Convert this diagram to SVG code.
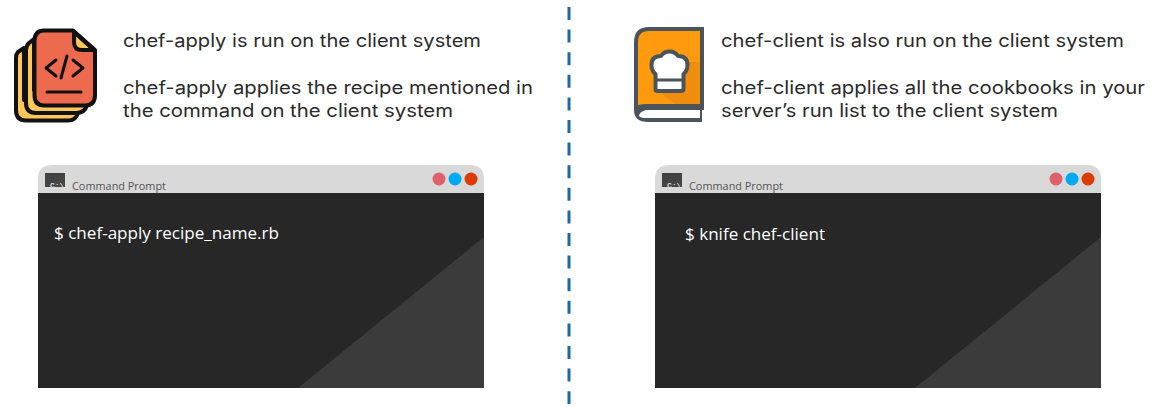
<svg xmlns="http://www.w3.org/2000/svg" width="1156" height="407" viewBox="0 0 1156 407">
<style>
.t{font-family:Inter,"Liberation Sans",sans-serif;font-size:18px;fill:#2b2b2b}
.cmd{font-family:"Open Sans","Liberation Sans",sans-serif;font-size:16.5px;fill:#fff}
.cp{font-family:"Open Sans","Liberation Sans",sans-serif;font-size:11px;fill:#555}
.cs{font-family:"Liberation Mono",monospace;font-size:8px;font-weight:bold;fill:#ddd}
.bar{fill:#d9d9d9}.body{fill:#272727}.tri{fill:#3b3b3b}
.ol{stroke:#111;stroke-width:4;stroke-linejoin:round;stroke-linecap:round}
</style>
<rect width="1156" height="407" fill="#fff"/>
<g id="connectors"><line x1="569" y1="7" x2="569" y2="404" stroke="#1b6aa5" stroke-width="3" stroke-dasharray="13 9.6"/></g>
<g id="icon-files">
<path class="ol" fill="#fdc75b" d="M24 48L18 52Q16 54 16 58V110Q16 120.500 26 120.500H68Q76 120.500 78 113L24 100Z"/>
<path class="ol" fill="#fdc75b" d="M34 39L29 43Q26 46 26 50V103Q26 113 36 113H76Q85 113 87 105L34 90Z"/>
<path class="ol" fill="#ee6a4e" d="M44 30.500H73L95 50V95Q95 105.500 85 105.500H44Q34.500 105.500 34.500 95V41Q34.500 30.500 44 30.500Z"/>
<path class="ol" fill="#fdc75b" d="M74 32V42Q74 50 82 50H94Z"/>
<g fill="none" stroke="#111" stroke-width="3" stroke-linecap="round" stroke-linejoin="round">
<path d="M56 60L46 68L56 76"/><path d="M73 60L83 68L73 76"/><path d="M67 56L61 78"/><path d="M47 92H81"/>
</g>
</g>
<g id="icon-book">
<path fill="#4a5459" d="M634 42Q634 27 649 27H704V110H702V122H648Q634 122 634 110Z"/>
<path fill="#ff9a0f" d="M638 105V42Q638 31 649 31H700V104H648Q642 104 638 105Z"/>
<path fill="#f08d0c" d="M700 62V104H676L656 90L689 62Z"/>
<path fill="#fff" d="M639 116Q639 112 646 110H700V118H646Q641 118 639 116Z"/>
<path fill="#fff" stroke="#4a5459" stroke-width="4" stroke-linejoin="round" d="M655.500 89V74Q651.500 71 651.500 65Q651.500 56 661 56Q664 51.500 669.500 51.500Q675 51.500 678 56Q687.500 56 687.500 65Q687.500 71 683.500 74V89Q683.500 91 681.500 91H657.500Q655.500 91 655.500 89Z"/>
<path fill="none" stroke="#4a5459" stroke-width="3" d="M656 80H683"/>
</g>
<g id="left-text">
<text class="t" x="123" y="47" textLength="358" lengthAdjust="spacingAndGlyphs">chef-apply is run on the client system</text>
<text class="t" x="123" y="94" textLength="410" lengthAdjust="spacingAndGlyphs">chef-apply applies the recipe mentioned in</text>
<text class="t" x="123" y="117" textLength="330" lengthAdjust="spacingAndGlyphs">the command on the client system</text>
</g>
<g id="right-text">
<text class="t" x="721" y="47" textLength="403" lengthAdjust="spacingAndGlyphs">chef-client is also run on the client system</text>
<text class="t" x="721" y="94" textLength="424" lengthAdjust="spacingAndGlyphs">chef-client applies all the cookbooks in your</text>
<text class="t" x="721" y="117" textLength="337" lengthAdjust="spacingAndGlyphs">server’s run list to the client system</text>
</g>
<g id="terminal-left">
<path class="bar" d="M38 194V179Q38 165 52 165H470Q484 165 484 179V194Z"/>
<rect class="body" x="38" y="193" width="446" height="195"/>
<path class="tri" d="M484 237V388H298Z"/>
<rect x="45" y="173" width="20" height="14" fill="#444"/>
<text class="cs" x="50" y="188">C:\</text>
<text class="cp" x="72" y="190" textLength="94" lengthAdjust="spacingAndGlyphs">Command Prompt</text>
<circle cx="439" cy="179" r="6.500" fill="#df5f6b"/><circle cx="455" cy="179" r="6.500" fill="#00a9f4"/><circle cx="471" cy="179" r="6.500" fill="#dd3b00"/>
<text class="cmd" x="54" y="239" textLength="225" lengthAdjust="spacingAndGlyphs">$ chef-apply recipe_name.rb</text>
</g>
<g id="terminal-right">
<path class="bar" d="M655 194V179Q655 165 669 165H1087Q1101 165 1101 179V194Z"/>
<rect class="body" x="655" y="193" width="446" height="195"/>
<path class="tri" d="M1101 237V388H915Z"/>
<rect x="662" y="173" width="20" height="14" fill="#444"/>
<text class="cs" x="667" y="188">C:\</text>
<text class="cp" x="689" y="190" textLength="94" lengthAdjust="spacingAndGlyphs">Command Prompt</text>
<circle cx="1056" cy="179" r="6.500" fill="#df5f6b"/><circle cx="1072" cy="179" r="6.500" fill="#00a9f4"/><circle cx="1088" cy="179" r="6.500" fill="#dd3b00"/>
<text class="cmd" x="685" y="240" textLength="140" lengthAdjust="spacingAndGlyphs">$ knife chef-client</text>
</g>
</svg>
